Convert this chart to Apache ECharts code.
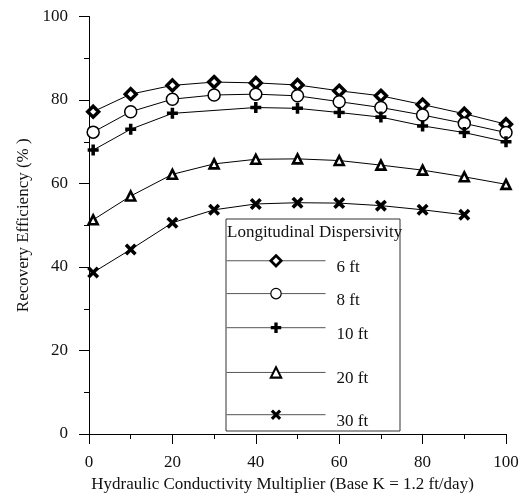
<!DOCTYPE html>
<html>
<head>
<meta charset="utf-8">
<script src="https://cdn.jsdelivr.net/npm/echarts@6/dist/echarts.min.js"></script>
<style>
  html, body { margin: 0; padding: 0; background: #ffffff; }
  #chart { width: 523px; height: 494px; }
</style>
</head>
<body>
<div id="chart"></div>
<script>
const MULTIPLIERS = [1, 10, 20, 30, 40, 50, 60, 70, 80, 90, 100];
const SERIES_NAMES = ["6 ft", "8 ft", "10 ft", "20 ft", "30 ft"];
const EFF_6FT = [77.2, 81.4, 83.5, 84.3, 84.1, 83.6, 82.2, 81.0, 78.9, 76.7, 74.2];
const EFF_8FT = [72.3, 77.2, 80.2, 81.2, 81.4, 81.0, 79.6, 78.2, 76.4, 74.4, 72.2];
const EFF_10FT = [68.0, 73.0, 76.8, null, 78.2, 78.0, 77.0, 75.9, 73.8, 72.2, 70.0];
const EFF_20FT = [51.3, 57.0, 62.2, 64.7, 65.8, 65.9, 65.5, 64.4, 63.2, 61.6, 59.8];
const EFF_30FT = [38.7, 44.2, 50.6, 53.7, 55.1, 55.4, 55.3, 54.7, 53.7, 52.5];

const FONT = "'Liberation Serif', 'Times New Roman', serif";
const PLUS = "path://M-1.6,-5 h3.2 v3.4 h3.4 v3.2 h-3.4 v3.4 h-3.2 v-3.4 h-3.4 v-3.2 h3.4 z";
const CROSS = "path://M0,2.1 L2.1,0 L5,2.9 L7.9,0 L10,2.1 L7.1,5 L10,7.9 L7.9,10 L5,7.1 L2.1,10 L0,7.9 L2.9,5 Z";

const markers = [
  { symbol: "diamond", size: 11, fill: "#ffffff", border: 3.4 },
  { symbol: "circle", size: 12, fill: "#ffffff", border: 1.5 },
  { symbol: PLUS, size: 11, fill: "#000000", border: 0 },
  { symbol: "triangle", size: 9, fill: "#ffffff", border: 2.6 },
  { symbol: CROSS, size: 12, fill: "#000000", border: 0 }
];
const values = [EFF_6FT, EFF_8FT, EFF_10FT, EFF_20FT, EFF_30FT];
const legendTops = [254.2, 287.8, 322.5, 366.2, 409.5];

function pairs(ys) {
  return ys.map((y, i) => [MULTIPLIERS[i], y]);
}

const series = SERIES_NAMES.map((name, i) => ({
  name,
  type: "line",
  data: pairs(values[i]),
  connectNulls: true,
  symbol: markers[i].symbol,
  symbolSize: markers[i].size,
  showAllSymbol: true,
  lineStyle: { color: "#000000", width: 1 },
  itemStyle: {
    color: markers[i].fill,
    borderColor: "#000000",
    borderWidth: markers[i].border,
    opacity: 1
  },
  z: 3 + i
}));

const legend = SERIES_NAMES.map((name, i) => ({
  data: [name],
  orient: "vertical",
  left: 226,
  top: legendTops[i],
  padding: 0,
  itemWidth: 99,
  itemHeight: 13,
  itemGap: 0,
  selectedMode: false,
  lineStyle: { color: "#555555", width: 1 },
  itemStyle: { borderColor: "#000000", borderWidth: markers[i].border * 0.8 },
  formatter: "{t|{name}}",
  textStyle: {
    rich: {
      t: {
        fontFamily: FONT,
        fontSize: 17,
        color: "#111111",
        padding: [13, 0, 0, 6]
      }
    }
  }
}));

const chart = echarts.init(document.getElementById("chart"));

chart.setOption({
  animation: false,
  backgroundColor: "#ffffff",
  grid: { left: 89, right: 17, top: 16.5, bottom: 60, outerBoundsMode: "none", containLabel: false },
  legend,
  xAxis: {
    type: "value",
    min: 0,
    max: 100,
    interval: 20,
    name: "Hydraulic Conductivity Multiplier (Base K = 1.2 ft/day)",
    nameLocation: "middle",
    nameGap: 41,
    nameTextStyle: { fontFamily: FONT, fontSize: 17, color: "#111111", padding: [0, 30, 0, 0] },
    axisLine: { lineStyle: { color: "#000000", width: 1 } },
    axisTick: { length: 10, lineStyle: { color: "#000000" } },
    minorTick: { show: true, splitNumber: 2, length: 5, lineStyle: { color: "#000000" } },
    axisLabel: { fontFamily: FONT, fontSize: 17, color: "#111111", margin: 20 },
    splitLine: { show: false }
  },
  yAxis: {
    type: "value",
    min: 0,
    max: 100,
    interval: 20,
    name: "Recovery Efficiency (% )",
    nameLocation: "middle",
    nameGap: 48,
    nameRotate: 90,
    nameTextStyle: { fontFamily: FONT, fontSize: 17, color: "#111111" },
    axisLine: { show: true, lineStyle: { color: "#000000", width: 1 } },
    axisTick: { length: 10, lineStyle: { color: "#000000" } },
    minorTick: { show: true, splitNumber: 2, length: 5, lineStyle: { color: "#000000" } },
    axisLabel: { fontFamily: FONT, fontSize: 17, color: "#111111", margin: 21 },
    splitLine: { show: false }
  },
  graphic: [
    {
      type: "rect",
      z: 1,
      shape: { x: 226, y: 219, width: 174, height: 212 },
      style: { fill: "#ffffff", stroke: "#333333", lineWidth: 1 },
      silent: true
    },
    {
      type: "text",
      z: 2,
      left: 227,
      top: 224,
      style: {
        text: "Longitudinal Dispersivity",
        fontFamily: FONT,
        fontSize: 17,
        fill: "#111111"
      },
      silent: true
    }
  ],
  series
});
</script>
</body>
</html>
